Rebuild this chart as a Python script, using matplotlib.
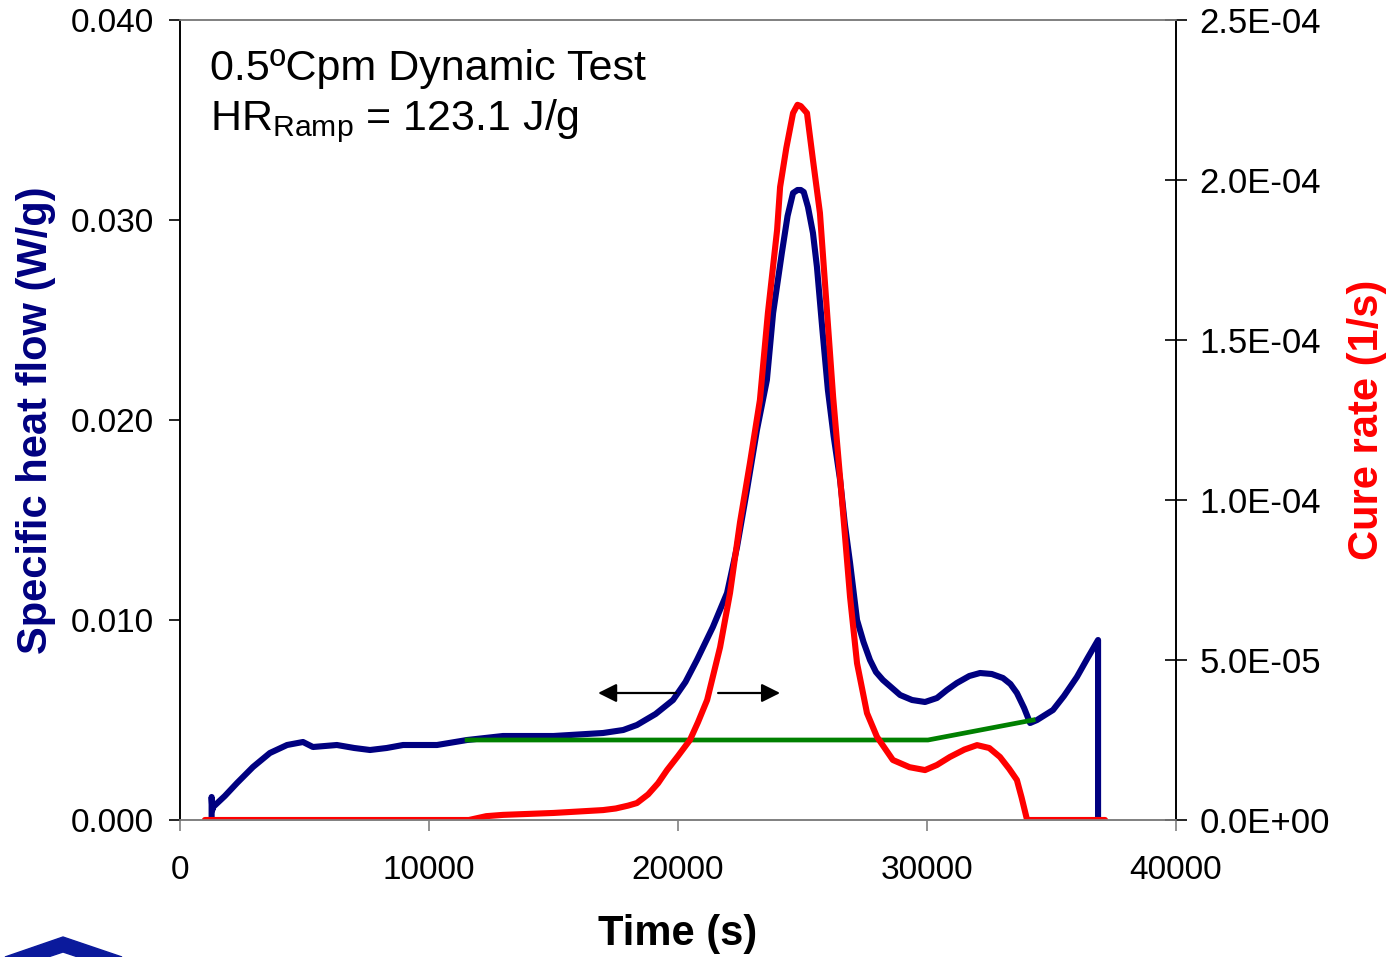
"""
DSC dynamic test: specific heat flow and cure rate vs time
"""
import matplotlib
matplotlib.use('Agg')
import matplotlib.pyplot as plt
import matplotlib.patches as mpatches
from matplotlib.ticker import FuncFormatter, MultipleLocator

plt.rcParams['font.family'] = ['Liberation Sans', 'DejaVu Sans']
plt.rcParams['mathtext.fontset'] = 'custom'
plt.rcParams['mathtext.rm'] = 'Liberation Sans'

# ===== data =====
time_hf = [1270, 1270, 1300, 1330, 1800, 2290, 2930, 3610, 4300, 4940, 5340,
           6300, 7000, 7630, 8300, 8960, 10320, 11530, 12970, 15000, 16990,
           17800, 18350, 19100, 19800, 20300, 20760, 21400, 21970, 22370,
           22770, 23170, 23570, 23820, 24170, 24400, 24620, 24800, 24930,
           25050, 25220, 25420, 25580, 25800, 26020, 26250, 26510, 26700,
           26910, 27190, 27450, 27710, 27950, 28230, 28920, 29400, 29920,
           30400, 30800, 31200, 31700, 32130, 32600, 33050, 33350, 33610,
           33900, 34140, 34420, 35060, 35500, 36020, 36450, 36870, 36870]
heat_flow = [0.0, 0.00115, 0.0005, 0.00065, 0.0012, 0.00185, 0.00265, 0.00335,
             0.00375, 0.0039, 0.00365, 0.00375, 0.0036, 0.0035, 0.0036, 0.00375,
             0.00375, 0.0040, 0.0042, 0.0042, 0.00435, 0.0045, 0.00475, 0.0053,
             0.0060, 0.0069, 0.0080, 0.00965, 0.01135, 0.01365, 0.0165, 0.0195,
             0.022, 0.02535, 0.02835, 0.0302, 0.03135, 0.0315, 0.0315, 0.0314,
             0.03065, 0.02935, 0.02765, 0.0245, 0.0215, 0.0192, 0.017, 0.0148,
             0.01285, 0.0100, 0.0089, 0.0080, 0.0074, 0.0070, 0.00625, 0.0060,
             0.0059, 0.0061, 0.0065, 0.00685, 0.0072, 0.00735, 0.0073, 0.0071,
             0.0068, 0.00635, 0.0056, 0.00485, 0.0050, 0.0055, 0.0062, 0.00715,
             0.0081, 0.0090, 0.0]

time_cr = [1000, 11600, 12300, 12970, 15000, 16990, 17500, 18000, 18350, 18800,
           19200, 19560, 20000, 20480, 20800, 21170, 21690, 22090, 22490, 22890,
           23290, 23610, 23980, 24100, 24350, 24620, 24800, 24930, 25180, 25420,
           25700, 26230, 26630, 26910, 27190, 27590, 27990, 28630, 29300, 29920,
           30400, 30920, 31500, 32010, 32500, 32930, 33300, 33610, 33800, 34020,
           37150]
cure_rate = [0.0, 0.0, 1.2e-6, 1.6e-6, 2.2e-6, 3.1e-6, 3.6e-6, 4.5e-6, 5.3e-6,
             8.0e-6, 1.15e-5, 1.56e-5, 2.0e-5, 2.5e-5, 3.05e-5, 3.75e-5, 5.4e-5,
             7.1e-5, 9.3e-5, 1.116e-4, 1.3125e-4, 1.584e-4, 1.844e-4, 1.978e-4,
             2.1e-4, 2.209e-4, 2.235e-4, 2.231e-4, 2.209e-4, 2.0625e-4, 1.897e-4,
             1.322e-4, 9.6e-5, 6.97e-5, 4.9e-5, 3.34e-5, 2.6e-5, 1.875e-5,
             1.65e-5, 1.56e-5, 1.72e-5, 1.97e-5, 2.2e-5, 2.34e-5, 2.25e-5,
             1.97e-5, 1.6e-5, 1.25e-5, 7.0e-6, 0.0, 0.0]

# baseline used for the ramp integration
time_base = [11530, 30040, 34260]
heat_base = [0.0040, 0.0040, 0.0050]

# integration window arrows (split by the curve)
arrow_y = 0.00635
arrow_left = (19920, 16790)
arrow_right = (21610, 24100)

COLORS = {
    'heat': '#000080',
    'cure': '#FF0000',
    'base': '#008000',
}

fig = plt.figure(figsize=(13.92, 9.57), dpi=100)
ax = fig.add_axes([180 / 1392, 1 - 820 / 957, 996 / 1392, 800 / 957])
ax2 = ax.twinx()

# --- left axis: heat flow ---
ax.plot(time_hf, heat_flow, color=COLORS['heat'], lw=4.4,
        solid_joinstyle='round', solid_capstyle='round')
ax.plot(time_base, heat_base, color=COLORS['base'], lw=3.4)
for x0, x1 in (arrow_left, arrow_right):
    ax.annotate('', xy=(x1, arrow_y), xytext=(x0, arrow_y),
                arrowprops=dict(arrowstyle='-|>', color='black', lw=1.6,
                                mutation_scale=28, shrinkA=0, shrinkB=0))

ax.set_xlim(0, 40000)
ax.set_ylim(0, 0.040)
ax.xaxis.set_major_locator(MultipleLocator(10000))
ax.yaxis.set_major_locator(MultipleLocator(0.010))
ax.yaxis.set_major_formatter(FuncFormatter(lambda v, p: f'{v:.3f}'))
ax.tick_params(axis='x', direction='out', length=8, width=1.2, labelsize=24,
               pad=17, color='#808080')
ax.tick_params(axis='y', direction='out', length=8, width=1.2, labelsize=24,
               pad=11)
ax.set_xlabel('Time (s)', fontsize=30, fontweight='bold', labelpad=20)
ax.set_ylabel('Specific heat flow (W/g)', fontsize=30, fontweight='bold',
              color=COLORS['heat'], labelpad=10)

# --- right axis: cure rate ---
ax2.plot(time_cr, cure_rate, color=COLORS['cure'], lw=4.4,
         solid_joinstyle='round', solid_capstyle='round')
ax2.set_ylim(0, 2.5e-4)
ax2.yaxis.set_major_locator(MultipleLocator(5e-5))


def sci_fmt(v, pos):
    if abs(v) < 1e-12:
        return '0.0E+00'
    mant, expo = f'{v:.1E}'.split('E')
    return f'{mant}E{int(expo):+03d}'


ax2.yaxis.set_major_formatter(FuncFormatter(sci_fmt))
ax2.tick_params(axis='y', direction='inout', length=16, width=1.2, labelsize=25,
                pad=9)
ax2.set_ylabel('Cure rate (1/s)', fontsize=30, fontweight='bold',
               color=COLORS['cure'], labelpad=12)

for a in (ax, ax2):
    a.spines['top'].set_color('#808080')
    a.spines['bottom'].set_color('#808080')
    a.spines['left'].set_color('black')
    a.spines['right'].set_color('black')
    for s in a.spines.values():
        s.set_linewidth(1.2)

# annotation text
ax.text(0.030, 0.925, '0.5\u00baCpm Dynamic Test', transform=ax.transAxes,
        fontsize=31, va='baseline', ha='left')
ax.text(0.030, 0.8625, r'HR$_{\mathrm{Ramp}}$ = 123.1 J/g', transform=ax.transAxes,
        fontsize=31, va='baseline', ha='left')

# logo fragment in the lower left corner
chev = [(5, 957), (63, 937), (122, 957), (78, 957), (63, 952), (48, 957)]
fig.patches.append(mpatches.Polygon([(x / 1392, 1 - y / 957) for x, y in chev],
                                    closed=True, color='#0b1a9c',
                                    transform=fig.transFigure, figure=fig))

fig.savefig('out.png', dpi=100)
